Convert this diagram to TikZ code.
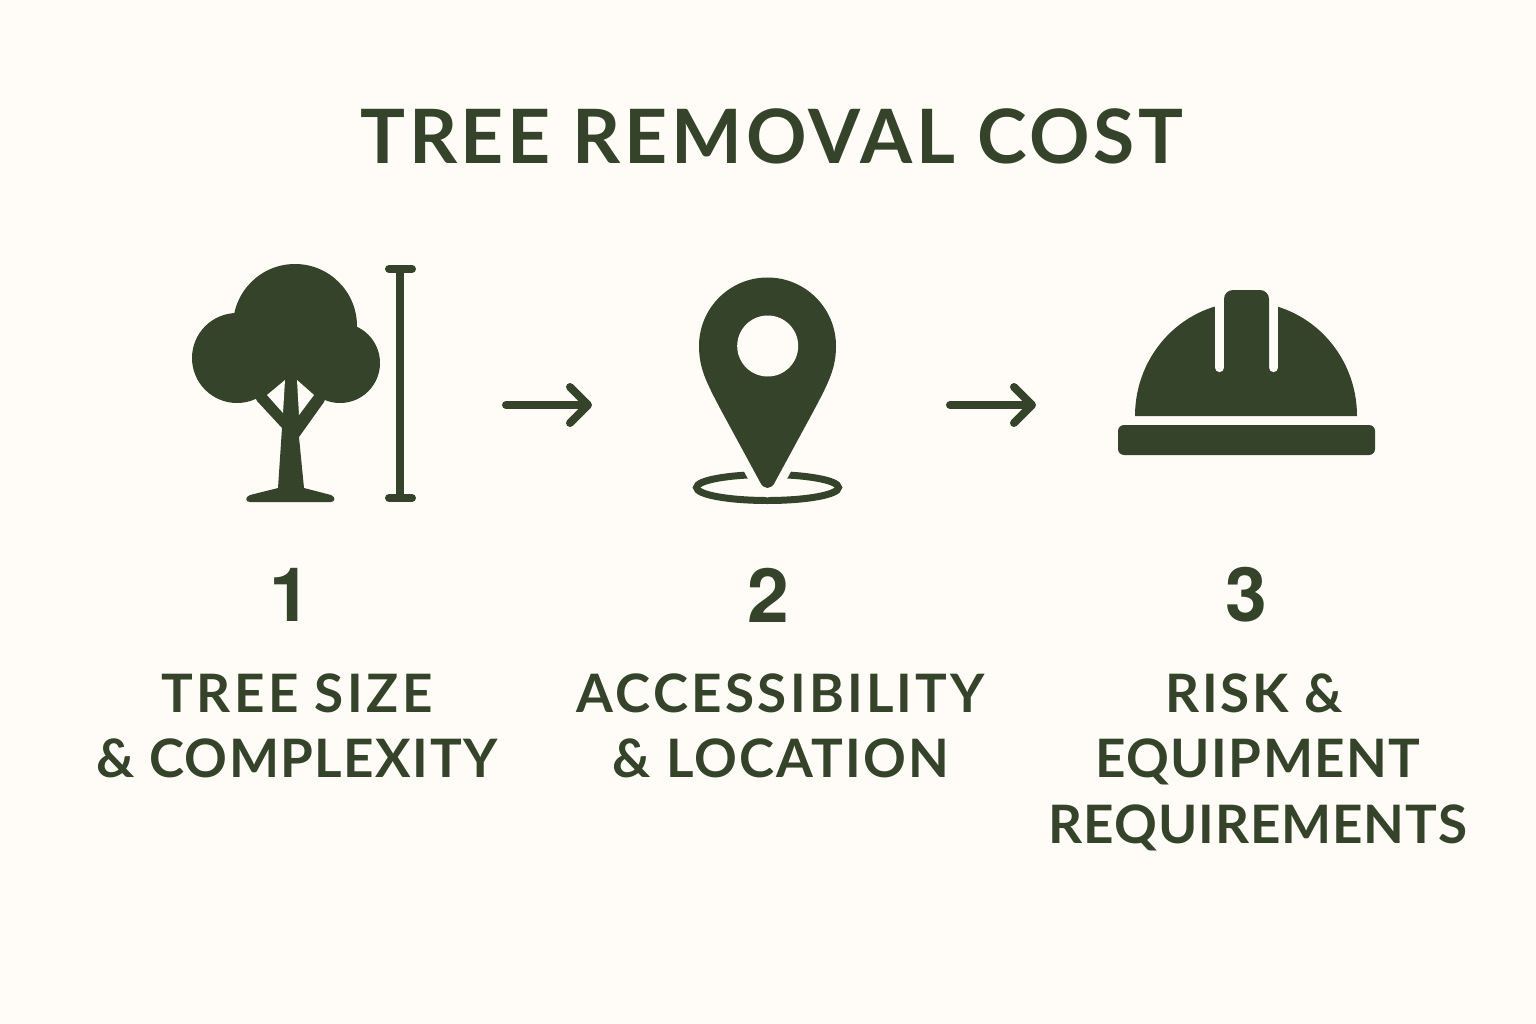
\documentclass[tikz,border=0pt]{standalone}
\usepackage{fontspec}
\usepackage{tikz, xcolor}
\usetikzlibrary{arrows.meta,positioning}
\setmainfont{Lato}
\newfontfamily\numberfont{TeX Gyre Heros}
\newcommand{\spaced}[2]{{\addfontfeature{LetterSpace=#1}#2}}

\definecolor{paper}{HTML}{FFFCF7}
\definecolor{forest}{HTML}{35432B}

\tikzset{
    titletext/.style = {text = forest, font = \fontsize{75}{75}\selectfont\bfseries},
    numbertext/.style = {text = forest, font = \numberfont\bfseries\fontsize{75}{75}\selectfont},
    steptext/.style = {text = forest, align = center, anchor = north,
                       font = \fontsize{53}{65.5}\selectfont\bfseries},
    flow/.style = {draw = forest, line width = 8pt, line cap = round,
                   -{Straight Barb[length = 18pt, width = 36pt, line width = 8pt, round]}},
    solid fill/.style = {fill = forest},
    cut out/.style = {fill = paper}
}

\begin{document}
\begin{tikzpicture}[x=1pt, y=-1pt]
    \fill[paper] (0,0) rectangle (1536,1024);

    \node[titletext] (title) at (772,136) {\spaced{5}{TREE REMOVAL COST}};

    \fill[solid fill] (295,326) circle[radius = 62];
    \fill[solid fill] (237,358) circle[radius = 45];
    \fill[solid fill] (340,363) circle[radius = 40];
    \fill[solid fill] (237,358) -- (295,326) -- (340,363) -- (324,402) -- (299,437)
        -- (304,488) -- (331,495) .. controls (336,497) and (335,502) .. (331,502)
        -- (250,502) .. controls (245,502) and (245,497) .. (250,495)
        -- (278,488) -- (282,428) -- (257,401) -- cycle;
    \fill[cut out] (285,380) -- (267,395) -- (283,413) -- cycle;
    \fill[cut out] (297,380) -- (314,395) -- (299,415) -- cycle;
    \draw[forest, line width = 8pt] (400,269) -- (400,498);
    \draw[forest, line width = 8pt, line cap = round] (389,269) -- (412,269);
    \draw[forest, line width = 8pt, line cap = round] (389,498) -- (412,498);

    \draw[forest, line width = 7pt] (767.5,487.5) ellipse[x radius = 71, y radius = 13];
    \path[solid fill, draw = paper, line width = 18pt] (699,346)
        arc[start angle = 180, end angle = 360, radius = 68.5]
        .. controls (836,368) and (829,382) .. (813,412) -- (775,482)
        .. controls (771.5,490) and (763.5,490) .. (760,482) -- (722,412)
        .. controls (706,382) and (699,368) .. (699,346) -- cycle;
    \fill[solid fill] (699,346)
        arc[start angle = 180, end angle = 360, radius = 68.5]
        .. controls (836,368) and (829,382) .. (813,412) -- (775,482)
        .. controls (771.5,490) and (763.5,490) .. (760,482) -- (722,412)
        .. controls (706,382) and (699,368) .. (699,346) -- cycle;
    \fill[cut out] (767.7,346) circle[radius = 30.5];

    \fill[solid fill] (1135,416) arc[start angle = 180, end angle = 360, x radius = 111, y radius = 114] -- cycle;
    \draw[paper, line width = 9.3pt, line cap = round] (1219.5,367.5) -- (1219.5,296);
    \draw[paper, line width = 9.3pt, line cap = round] (1273.5,367.5) -- (1273.5,296);
    \fill[solid fill, rounded corners = 9pt] (1224,380) -- (1224,290) -- (1269,290) -- (1269,380) -- cycle;
    \fill[solid fill, rounded corners = 6pt] (1118,425) rectangle (1375,455);

    \coordinate (tree out) at (506,405);
    \coordinate (pin in) at (592,405);
    \coordinate (pin out) at (950,405);
    \coordinate (hat in) at (1036,405);
    \draw[flow] (tree out) -- (pin in);
    \draw[flow] (pin out) -- (hat in);

    \node[numbertext] (one) at (290,595) {1};
    \node[numbertext] (two) at (768,595) {2};
    \node[numbertext] (three) at (1246,595) {3};

    \node[steptext] (size) at (297,670) {\spaced{6.5}{TREE SIZE}\\\spaced{2.8}{\& COMPLEXITY}};
    \node[steptext] (access) at (781,670) {\spaced{6.1}{ACCESSIBILITY}\\\spaced{3.9}{\& LOCATION}};
    \node[steptext] (risk) at (1258,670) {\spaced{5}{RISK \&}\hspace*{8pt}\\\spaced{2.7}{EQUIPMENT}\\\spaced{1.7}{REQUIREMENTS}};
\end{tikzpicture}
\end{document}
